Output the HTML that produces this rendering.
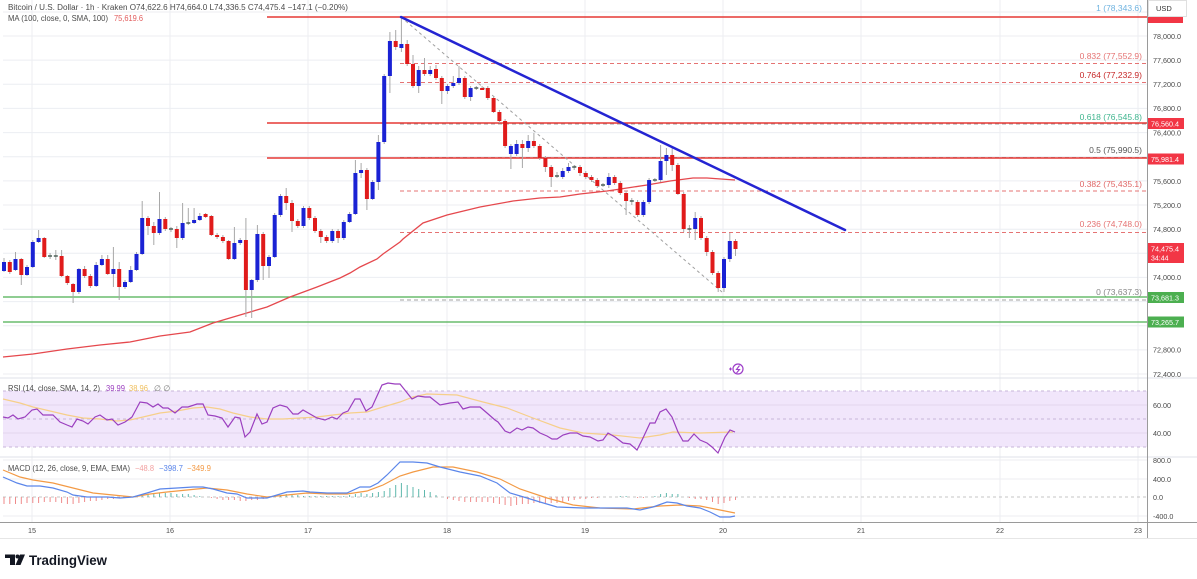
<!DOCTYPE html>
<html><head><meta charset="utf-8"><style>
html,body{margin:0;padding:0;background:#fff;}
svg{display:block;}
</style></head><body>
<svg width="1197" height="579" viewBox="0 0 1197 579" xmlns="http://www.w3.org/2000/svg" font-family="'Liberation Sans', sans-serif">
<rect width="1197" height="579" fill="#fff"/>
<!-- horizontal grid main -->
<g stroke="#eceef2" stroke-width="1">
<path d="M3 12H1147M3 36H1147M3 60.1H1147M3 84.3H1147M3 108.4H1147M3 132.6H1147M3 156.7H1147M3 180.9H1147M3 205H1147M3 229.2H1147M3 253.3H1147M3 277.4H1147M3 301.6H1147M3 325.7H1147M3 349.9H1147M3 374H1147"/>
<path d="M32 0V522M170 0V522M308 0V522M447 0V522M585 0V522M723 0V522M861 0V522M1000 0V522M1138 0V522"/>
</g>
<!-- pane separators -->
<path d="M0 378H1197M0 457H1197" stroke="#dfe2e8" stroke-width="1"/>
<!-- RSI band -->
<rect x="3" y="391" width="1144" height="56" fill="#f1e6fb"/>
<path d="M3 405H1147M3 433H1147" stroke="#e2d6ee" stroke-width="1"/>
<path d="M3 391H1147M3 419H1147M3 447H1147" stroke="#c7b5d8" stroke-width="1" stroke-dasharray="3 3"/>
<!-- MACD grid -->
<path d="M3 460H1147M3 479H1147M3 516H1147" stroke="#eceef2" stroke-width="1"/>
<path d="M3 497H1147" stroke="#c4c4c4" stroke-width="1" stroke-dasharray="3 3"/>
<!-- axes lines -->
<path d="M1147.5 0V539" stroke="#9a9a9a" stroke-width="1"/>
<path d="M0 522.5H1197" stroke="#9a9a9a" stroke-width="1"/>
<path d="M0 538.5H1197" stroke="#e6e6e6" stroke-width="1"/>

<!-- Fib dashed lines -->
<g stroke-width="1" stroke-dasharray="4 3" fill="none">
<path d="M400 63.5H1147M400 82.5H1147M400 191H1147M400 232.5H1147" stroke="#e57373"/>
<path d="M400 124H1147M400 157.5H1147M400 300H1147" stroke="#a0a0a0"/>
</g>
<!-- red solid levels -->
<path d="M267 17H1147M267 123H1147M267 158H1147" stroke="#e53935" stroke-width="1.6"/>
<!-- green levels -->
<path d="M3 297H1147M3 322H1147" stroke="#4caf50" stroke-width="1.3"/>
<!-- MA 100 -->
<polyline fill="none" stroke="#e5484d" stroke-width="1.3" points="3,357 33,354 67,349 100,345 130,342 160,336 190,332 213,323 240,315 267,307 290,297 317,287 340,278 350,273 360,267 377,259 383,254 400,242 403,239 423,223 447,215 480,207 513,201 540,198 560,197 580,194 607,191 627,188 647,185 670,181 693,178 707,178 735,180"/>
<!-- diagonal gray dashed -->
<path d="M401 17L722 292" stroke="#a0a0a0" stroke-width="1" stroke-dasharray="3 3"/>

<!-- wicks -->
<path stroke="#a8a8a8" stroke-width="1" fill="none" d="M4 258V272M9.8 260V274M15.5 252V271M21.3 258V285M27 265V276M32.8 240V268M38.6 230V243M44.3 237V258M50.1 253V259M55.8 250V260M61.6 250V277M67.4 275V285M73.1 283V303M78.9 268V294M84.6 266V278M90.4 274V288M96.2 262V287M101.9 255V266M107.7 255V275M113.4 247V287M119.2 262V300M125 280V289M130.7 266V283M136.5 252V271M142.2 201V255M148 216V235M153.8 222V245M159.5 192V235M165.3 217V231M171 227V232M176.8 226V248M182.6 203V240M188.3 208V225M194.1 208V224M199.8 213V221M205.6 213V218M211.4 215V236M217.1 233V239M222.9 235V243M228.6 240V260M234.4 227V260M240.2 238V245M245.9 218V317M251.7 279V318M257.4 225V282M263.2 232V280M269 255V278M274.7 213V258M280.5 194V217M286.2 188V210M292 200V232M297.8 219V228M303.5 206V228M309.3 206V220M315 216V233M320.8 229V243M326.6 235V243M332.3 229V243M338.1 229V243M343.8 220V240M349.6 212V223M355.4 160V215M361.1 163V178M366.9 168V210M372.6 180V200M378.4 135V190M384.2 74V144M389.9 32V93M395.7 30V50M401.4 17V52M407.2 40V66M413 55V88M418.7 66V93M424.5 58V76M430.2 66V76M436 65V80M441.8 76V104M447.5 84V94M453.3 76V88M459 66V85M464.8 76V99M470.6 86V101M476.3 86V90M482.1 86V90M487.8 86V100M493.6 96V113M499.4 110V123M505.1 119V148M510.9 144V169M516.6 140V156M522.4 140V168M528.2 135V152M533.9 133V148M539.7 144V160M545.4 156V172M551.2 165V187M557 172V178M562.7 168V179M568.5 163V173M574.2 165V170M580 165V176M585.8 171V179M591.5 175V182M597.3 178V188M603 183V187M608.8 173V188M614.6 175V185M620.3 181V195M626.1 191V215M631.8 198V205M637.6 200V217M643.4 200V217M649.1 178V204M654.9 178V182M660.6 145V182M666.4 148V175M672.2 148V171M677.9 163V195M683.7 192V232M689.4 225V238M695.2 212V240M701 216V240M706.7 236V256M712.5 250V275M718.2 271V292M724 257V292M729.8 233V262M735.5 239V256"/>
<!-- blue bodies -->
<path fill="#1a22d4" d="M2 262h4v9h-4zM13.5 259h4v11h-4zM25 267h4v8h-4zM30.8 242h4v25h-4zM36.6 238h4v4h-4zM76.9 269h4v23h-4zM94.2 265h4v21h-4zM99.9 259h4v6h-4zM111.4 269h4v5h-4zM123 282h4v5h-4zM128.7 270h4v12h-4zM134.5 254h4v16h-4zM140.2 218h4v36h-4zM157.5 219h4v14h-4zM180.6 223h4v15h-4zM192.1 220h4v3h-4zM197.8 216h4v4h-4zM232.4 243h4v16h-4zM238.2 240h4v3h-4zM249.7 280h4v10h-4zM255.4 234h4v46h-4zM267 257h4v9h-4zM272.7 215h4v42h-4zM278.5 196h4v19h-4zM301.5 208h4v18h-4zM330.3 231h4v10h-4zM341.8 222h4v16h-4zM347.6 214h4v8h-4zM353.4 173h4v41h-4zM359.1 170h4v3h-4zM370.6 182h4v17h-4zM376.4 142h4v40h-4zM382.2 76h4v66h-4zM387.9 41h4v35h-4zM399.4 44h4v4h-4zM416.7 70h4v16h-4zM428.2 70h4v4h-4zM445.5 86h4v5h-4zM451.3 83h4v3h-4zM457 78h4v5h-4zM468.6 88h4v9h-4zM508.9 146h4v8h-4zM514.6 144h4v10h-4zM526.2 141h4v7h-4zM560.7 171h4v6h-4zM566.5 167h4v4h-4zM606.8 177h4v8h-4zM641.4 202h4v13h-4zM647.1 180h4v22h-4zM658.6 161h4v19h-4zM664.4 155h4v6h-4zM693.2 218h4v11h-4zM722 259h4v29h-4zM727.8 241h4v18h-4z"/>
<!-- red bodies -->
<path fill="#e01b1b" d="M7.8 262h4v10h-4zM19.3 259h4v16h-4zM42.3 238h4v19h-4zM59.6 256h4v20h-4zM65.4 276h4v7h-4zM71.1 284h4v8h-4zM82.6 269h4v7h-4zM88.4 276h4v10h-4zM105.7 259h4v15h-4zM117.2 269h4v18h-4zM146 218h4v8h-4zM151.8 226h4v7h-4zM163.3 219h4v10h-4zM174.8 229h4v9h-4zM203.6 214h4v3h-4zM209.4 216h4v19h-4zM215.1 235h4v2h-4zM220.9 237h4v4h-4zM226.6 241h4v18h-4zM243.9 240h4v50h-4zM261.2 234h4v32h-4zM284.2 196h4v7h-4zM290 203h4v18h-4zM295.8 221h4v5h-4zM307.3 208h4v10h-4zM313 218h4v13h-4zM318.8 231h4v6h-4zM324.6 237h4v4h-4zM336.1 231h4v7h-4zM364.9 170h4v29h-4zM393.7 41h4v6h-4zM405.2 44h4v20h-4zM411 64h4v22h-4zM422.5 70h4v4h-4zM434 69h4v9h-4zM439.8 78h4v13h-4zM462.8 78h4v19h-4zM480.1 88h4v2h-4zM485.8 88h4v10h-4zM491.6 98h4v14h-4zM497.4 112h4v9h-4zM503.1 121h4v25h-4zM520.4 144h4v4h-4zM531.9 141h4v5h-4zM537.7 146h4v12h-4zM543.4 158h4v9h-4zM549.2 167h4v10h-4zM578 167h4v6h-4zM583.8 173h4v4h-4zM589.5 177h4v3h-4zM595.3 180h4v6h-4zM612.6 177h4v6h-4zM618.3 183h4v10h-4zM624.1 193h4v8h-4zM635.6 202h4v13h-4zM670.2 155h4v10h-4zM675.9 165h4v29h-4zM681.7 194h4v35h-4zM699 218h4v20h-4zM704.7 238h4v14h-4zM710.5 252h4v21h-4zM716.2 273h4v15h-4zM733.5 241h4v8h-4z"/>
<!-- dojis -->
<path stroke="#4d6058" stroke-width="1.5" d="M48 256h4M53.8 256h4M169 229h4M186.3 223h4M474.3 88h4M555 176h4M572.2 167h4M601 185h4M629.8 201h4M652.9 180h4M687.4 229h4"/>

<!-- blue trendline -->
<path d="M401 17L845 230" stroke="#2424d2" stroke-width="2.5" stroke-linecap="round"/>

<!-- bolt icon -->
<g fill="none" stroke="#9c3cc8" stroke-width="1.2">
<circle cx="738" cy="369" r="5"/>
<path d="M739.5 365.5L736.5 369.5H739.5L736.5 373" stroke-width="1.1"/>
<path d="M729 369h3M730.5 367.5v3" stroke-width="1"/>
</g>

<!-- RSI lines -->
<polyline fill="none" stroke="#f6cf8a" stroke-width="1.2" points="3,399 20,403 33,407 50,411 67,415 83,418 100,419 117,421 130,420 143,417 160,413 177,411 193,408 207,407 220,409 233,413 250,417 267,419 283,419 300,418 317,417 333,415 350,413 367,412 383,407 400,402 413,397 427,394 457,395 483,402 507,408 533,418 560,428 583,433 613,435 640,438 660,435 673,432 700,433 733,432"/>
<polyline fill="none" stroke="#9b3fbf" stroke-width="1.2" points="3,417 8,418 13,415 18,419 25,417 32,410 37,409 43,415 53,415 60,422 67,425 72,427 77,419 83,421 88,424 95,417 100,415 107,420 112,419 118,425 125,422 132,417 140,402 147,403 153,407 158,404 163,408 168,408 175,413 182,407 188,407 197,404 203,404 208,415 215,416 222,418 228,427 235,417 240,418 245,437 250,432 257,414 262,424 267,422 273,408 280,405 287,407 293,414 298,414 303,410 310,414 317,418 325,420 332,417 337,419 343,413 348,411 355,399 360,399 366,411 372,407 382,385 388,383 395,384 400,384 412,399 418,396 425,397 430,397 440,405 450,403 458,402 463,409 470,407 480,407 487,413 495,420 498,422 505,431 510,433 517,428 522,430 528,427 533,428 540,433 547,436 552,439 557,439 563,435 570,433 577,433 583,436 590,437 598,441 603,440 608,433 615,437 623,443 630,444 637,450 643,438 650,423 655,423 660,412 666,409 672,417 678,432 683,441 688,441 694,434 700,440 707,443 712,447 718,453 725,437 730,430 735,432"/>

<!-- MACD histogram -->
<path stroke="#ef8a8a" stroke-width="1" d="M4 497v7M9.8 497v7M15.5 497v7M21.3 497v7M27 497v6M32.8 497v6M38.6 497v6M44.3 497v5M50.1 497v5M55.8 497v5M61.6 497v6M67.4 497v7M73.1 497v7M78.9 497v6M84.6 497v5M90.4 497v4M96.2 497v4M101.9 497v3M107.7 497v2M113.4 497v2M119.2 497v1M125 497v1M211.4 497v1M217.1 497v2M222.9 497v3M228.6 497v3M234.4 497v3M240.2 497v4M245.9 497v4M251.7 497v3M257.4 497v3M263.2 497v2M269 497v1M447.5 497v2M453.3 497v3M459 497v4M464.8 497v5M470.6 497v5M476.3 497v5M482.1 497v5M487.8 497v5M493.6 497v6M499.4 497v7M505.1 497v8M510.9 497v9M516.6 497v8M522.4 497v7M528.2 497v7M533.9 497v6M539.7 497v6M545.4 497v6M551.2 497v6M557 497v6M562.7 497v5M568.5 497v4M574.2 497v3M580 497v2M585.8 497v2M591.5 497v1M597.3 497v1M637.6 497v1M643.4 497v1M689.4 497v1M695.2 497v2M701 497v2M706.7 497v3M712.5 497v5M718.2 497v7M724 497v6M729.8 497v4M735.5 497v3"/>
<path stroke="#5fb8ad" stroke-width="1" d="M136.5 497v-1M142.2 497v-2M148 497v-3M153.8 497v-3M159.5 497v-4M165.3 497v-4M171 497v-4M176.8 497v-3M182.6 497v-3M188.3 497v-3M194.1 497v-2M199.8 497v-1M274.7 497v-1M280.5 497v-2M286.2 497v-3M292 497v-2M297.8 497v-2M303.5 497v-1M309.3 497v-1M315 497v-1M320.8 497v-1M326.6 497v-1M332.3 497v-1M338.1 497v-1M343.8 497v-1M349.6 497v-2M355.4 497v-3M361.1 497v-4M366.9 497v-3M372.6 497v-4M378.4 497v-5M384.2 497v-6M389.9 497v-9M395.7 497v-12M401.4 497v-14M407.2 497v-12M413 497v-10M418.7 497v-8M424.5 497v-7M430.2 497v-5M436 497v-2M620.3 497v-1M626.1 497v-1M654.9 497v-1M660.6 497v-3M666.4 497v-4M672.2 497v-3M677.9 497v-3"/>
<!-- MACD lines -->
<polyline fill="none" stroke="#f39a45" stroke-width="1.2" points="3,470 20,477 33,480 53,483 73,488 93,493 113,495 133,497 150,494 167,492 187,490 207,488 227,490 247,494 267,497 287,495 307,493 327,494 347,494 367,491 383,485 400,476 413,472 433,467 453,467 477,472 500,479 520,489 547,498 573,505 600,508 633,509 660,506 680,505 700,506 720,510 735,513"/>
<polyline fill="none" stroke="#5b86ea" stroke-width="1.2" points="3,477 17,483 27,486 40,486 53,488 67,492 73,495 87,497 107,497 120,498 133,497 147,493 160,489 177,488 193,487 203,487 213,489 227,493 237,494 247,498 257,498 267,498 277,495 287,492 303,491 310,492 327,493 347,493 360,487 370,487 378,483 387,475 400,462 413,462 427,463 440,467 460,472 480,476 497,483 510,493 527,498 540,502 557,507 583,508 607,508 627,508 640,510 653,507 667,502 677,503 687,506 700,508 710,512 720,517 730,517 735,516"/>

<!-- legends -->
<text x="8" y="10" font-size="8" fill="#4a4a4a" textLength="340" lengthAdjust="spacingAndGlyphs">Bitcoin / U.S. Dollar · 1h · Kraken  O74,622.6  H74,664.0  L74,336.5  C74,475.4  −147.1 (−0.20%)</text>
<text x="8" y="21" font-size="8" fill="#4a4a4a" textLength="100" lengthAdjust="spacingAndGlyphs">MA (100, close, 0, SMA, 100)</text>
<text x="114" y="21" font-size="8" fill="#e25c5c" textLength="29" lengthAdjust="spacingAndGlyphs">75,619.6</text>
<text x="8" y="391" font-size="8" fill="#4a4a4a" textLength="92" lengthAdjust="spacingAndGlyphs">RSI (14, close, SMA, 14, 2)</text>
<text x="106" y="391" font-size="8" fill="#9b3fbf" textLength="19" lengthAdjust="spacingAndGlyphs">39.99</text>
<text x="129" y="391" font-size="8" fill="#f0c060" textLength="19" lengthAdjust="spacingAndGlyphs">38.96</text>
<text x="154" y="391" font-size="8" fill="#777">∅ ∅</text>
<text x="8" y="471" font-size="8" fill="#4a4a4a" textLength="122" lengthAdjust="spacingAndGlyphs">MACD (12, 26, close, 9, EMA, EMA)</text>
<text x="135" y="471" font-size="8" fill="#f2a0a0" textLength="19" lengthAdjust="spacingAndGlyphs">−48.8</text>
<text x="159" y="471" font-size="8" fill="#5b86ea" textLength="24" lengthAdjust="spacingAndGlyphs">−398.7</text>
<text x="187" y="471" font-size="8" fill="#f39a45" textLength="24" lengthAdjust="spacingAndGlyphs">−349.9</text>

<!-- fib labels -->
<g font-size="8.5" text-anchor="end">
<text x="1142" y="11" fill="#6fb3e0">1 (78,343.6)</text>
<text x="1142" y="59" fill="#e57373">0.832 (77,552.9)</text>
<text x="1142" y="78" fill="#c62828">0.764 (77,232.9)</text>
<text x="1142" y="120" fill="#3fb58e">0.618 (76,545.8)</text>
<text x="1142" y="153" fill="#555">0.5 (75,990.5)</text>
<text x="1142" y="187" fill="#e06666">0.382 (75,435.1)</text>
<text x="1142" y="227" fill="#e57373">0.236 (74,748.0)</text>
<text x="1142" y="295" fill="#888">0 (73,637.3)</text>
</g>

<!-- price axis -->
<g font-size="7.2" fill="#4a4a4a">
<text x="1153" y="39">78,000.0</text>
<text x="1153" y="63">77,600.0</text>
<text x="1153" y="87">77,200.0</text>
<text x="1153" y="111">76,800.0</text>
<text x="1153" y="135.5">76,400.0</text>
<text x="1153" y="184">75,600.0</text>
<text x="1153" y="208">75,200.0</text>
<text x="1153" y="232">74,800.0</text>
<text x="1153" y="280">74,000.0</text>
<text x="1153" y="352.5">72,800.0</text>
<text x="1153" y="377">72,400.0</text>
<text x="1153" y="408">60.00</text>
<text x="1153" y="436">40.00</text>
<text x="1153" y="463">800.0</text>
<text x="1153" y="482">400.0</text>
<text x="1153" y="500">0.0</text>
<text x="1153" y="519">-400.0</text>
</g>
<!-- price tags -->
<rect x="1148" y="16" width="35" height="7" fill="#f23645"/>
<rect x="1148.5" y="0.5" width="38" height="16" fill="#fff" stroke="#e0e0e0"/>
<text x="1156" y="11" font-size="7.5" fill="#333">USD</text>
<rect x="1148" y="118" width="36" height="11" fill="#f23645"/>
<text x="1151" y="126.3" font-size="7.2" fill="#fff">76,560.4</text>
<rect x="1148" y="153.5" width="36" height="11" fill="#f23645"/>
<text x="1151" y="161.8" font-size="7.2" fill="#fff">75,981.4</text>
<rect x="1148" y="243" width="36" height="20" fill="#f23645"/>
<text x="1151" y="251.5" font-size="7.2" fill="#fff">74,475.4</text>
<text x="1151" y="260.5" font-size="7" fill="#fff">34:44</text>
<rect x="1148" y="292" width="36" height="11" fill="#4caf50"/>
<text x="1151" y="300.3" font-size="7.2" fill="#fff">73,681.3</text>
<rect x="1148" y="316.5" width="36" height="11" fill="#4caf50"/>
<text x="1151" y="324.8" font-size="7.2" fill="#fff">73,265.7</text>

<!-- time axis -->
<g font-size="7.2" fill="#4a4a4a" text-anchor="middle">
<text x="32" y="533">15</text>
<text x="170" y="533">16</text>
<text x="308" y="533">17</text>
<text x="447" y="533">18</text>
<text x="585" y="533">19</text>
<text x="723" y="533">20</text>
<text x="861" y="533">21</text>
<text x="1000" y="533">22</text>
<text x="1138" y="533">23</text>
</g>

<!-- TradingView logo -->
<g fill="#131722">
<rect x="5" y="554.5" width="10" height="3.5"/>
<rect x="10" y="554.5" width="5" height="10.5"/>
<circle cx="17.5" cy="556.5" r="2"/>
<path d="M20 554.5H25L20.5 565H15.5Z"/>
</g>
<text x="29" y="565" font-size="14" font-weight="bold" fill="#131722" textLength="78" lengthAdjust="spacingAndGlyphs">TradingView</text>
</svg>
</body></html>
